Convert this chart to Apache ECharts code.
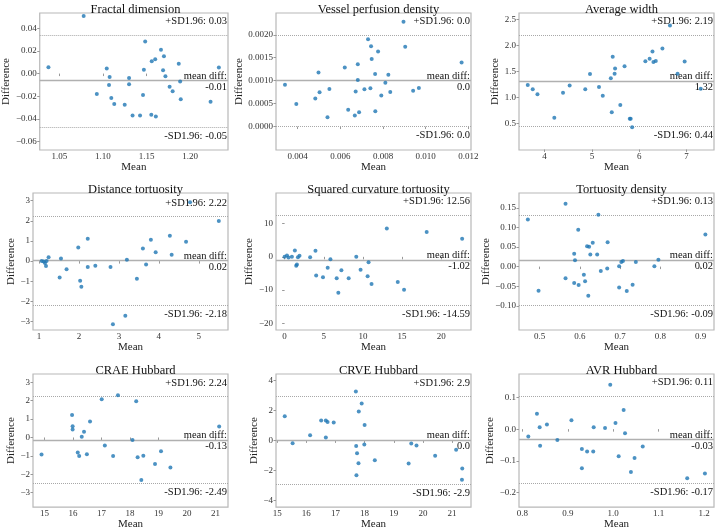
<!DOCTYPE html>
<html><head><meta charset="utf-8">
<script src="https://cdn.jsdelivr.net/npm/echarts@6/dist/echarts.min.js"></script>
<style>html,body{margin:0;padding:0;background:#fff}#c{width:716px;height:531px}</style>
</head><body><div id="c"></div>
<script>
const titles = ['Fractal dimension','Vessel perfusion density','Average width','Distance tortuosity','Squared curvature tortuosity','Tortuosity density','CRAE Hubbard','CRVE Hubbard','AVR Hubbard'];

const fractalMean = [1.0375,1.0779,1.093,1.1044,1.1077,1.107,1.1096,1.113,1.130,1.130,1.125,1.134,1.1426,1.146,1.147,1.1485,1.156,1.160,1.1555,1.1607,1.1666,1.169,1.170,1.1717,1.1765,1.180,1.187,1.1886,1.1893,1.2235,1.233];
const fractalDiff = [0.0056,0.051,-0.018,0.0044,-0.003,-0.010,-0.0216,-0.027,-0.004,-0.0095,-0.0276,-0.037,-0.037,-0.019,0.0033,0.0284,0.011,0.0127,-0.0364,-0.038,0.021,0.003,0.0154,-0.0024,-0.0116,-0.0157,0.0086,-0.0071,-0.0228,-0.0249,0.0053];

const vesselMean = [0.00341,0.00394,0.00483,0.00498,0.00503,0.00549,0.00540,0.00621,0.00637,0.00668,0.00672,0.00682,0.00682,0.00688,0.00713,0.00730,0.00741,0.00744,0.00747,0.00763,0.00764,0.00777,0.00792,0.00811,0.00825,0.00834,0.00896,0.00904,0.00941,0.00968,0.01168];
const vesselDiff = [0.000912,0.00049,0.00061,0.001175,0.000745,0.000818,0.000204,0.001285,0.000365,0.00024,0.000766,0.001358,0.001015,0.000314,0.00081,0.0019,0.000832,0.00175,0.001474,0.001146,0.000336,0.001635,0.000679,0.000956,0.00113,0.000752,0.002285,0.001737,0.00078,0.00084,0.001394];

const widthMean = [3.645,3.75,3.85,4.206,4.39,4.53,4.86,4.96,5.15,5.23,5.40,5.42,5.44,5.48,5.49,5.60,5.69,5.80,5.82,5.85,6.13,6.22,6.28,6.30,6.35,6.49,6.65,6.81,6.96,7.30];
const widthDiff = [1.238,1.154,1.058,0.608,1.09,1.23,1.154,1.45,1.20,1.03,1.367,0.717,1.778,1.455,1.553,0.852,1.598,0.588,0.588,0.428,1.695,1.74,1.88,1.68,1.70,1.94,2.38,1.456,1.69,1.167];

const distMean = [1.067,1.117,1.15,1.175,1.19,1.24,1.517,1.55,1.69,1.983,2.03,2.06,2.22,2.22,2.41,2.79,2.85,3.16,3.2,3.45,3.6,3.68,3.8,3.92,4.275,4.32,4.68,4.78,5.5];
const distDiff = [0,-0.016,-0.1,-0.245,0,0.196,-0.816,0.13,-0.41,0.67,-0.98,-1.27,1.11,-0.29,-0.23,-0.29,-3.13,-2.71,0.065,-0.88,0.62,-0.163,1.06,0.44,1.256,0.31,0.96,2.92,1.99];

const sqMean = [0,0.3,0.5,0.93,1.31,1.48,1.57,1.7,1.9,3.26,3.94,4.03,4.9,5.5,5.85,6.65,6.86,7.25,8.18,9.15,9.7,10.6,10.72,11.1,13.05,14.45,15.25,18.14,22.67];
const sqDiff = [0,0.4,-0.2,0,1.9,-2.67,-2.3,-0.1,0.3,-0.1,1.8,-5.6,-6.1,-3.3,-0.7,-6.4,-10.8,-4.0,-6.4,0,-3.9,-5.8,-1.6,-8.2,8.5,-7.6,-9.9,7.5,5.45];

const densMean = [0.471,0.4975,0.5645,0.5645,0.586,0.586,0.588,0.596,0.597,0.61,0.613,0.618,0.623,0.621,0.626,0.632,0.643,0.646,0.652,0.668,0.669,0.6975,0.6975,0.703,0.707,0.731,0.7165,0.739,0.785,0.795,0.9116];
const densDiff = [0.12,-0.0614,0.16,-0.0295,0.0328,-0.042,0.016,0.094,-0.047,-0.021,-0.037,0.052,0.0505,-0.074,0.031,0.0606,0.031,0.132,-0.011,-0.005,0.0623,0.0008,-0.053,0.0118,0.0143,-0.046,-0.062,0.0118,0.0008,0.0177,0.0817];

const craeMean = [14.9,15.97,15.99,15.99,16.17,16.22,16.31,16.39,16.49,16.6,17.01,17.12,17.41,17.58,18.09,18.22,18.27,18.4,18.47,18.88,19.09,19.42,21.13];
const craeDiff = [-0.925,1.22,0.61,0.44,-0.82,-1.01,0.035,0.314,-0.907,0.87,2.08,-0.436,-1.01,2.3,-0.14,1.97,-1.08,-2.32,-0.995,-1.45,-0.75,-1.64,0.593];

const crveMean = [15.26,15.53,16.13,16.51,16.67,16.73,16.67,16.94,17.7,17.71,17.72,17.74,17.8,17.79,17.9,17.99,18.0,18.35,19.51,19.6,19.78,20.42,21.14,21.35,21.34];
const crveDiff = [1.6,-0.19,0.34,1.32,1.32,1.22,0.19,1.19,3.24,-0.38,-2.32,-0.85,1.92,-1.51,2.45,-0.28,1.02,-1.32,-1.54,-0.21,-0.34,-1.02,-0.62,-1.86,-2.62];

const avrMean = [0.813,0.832,0.838,0.839,0.854,0.877,0.908,0.931,0.931,0.9425,0.956,0.957,0.982,0.9935,1.005,1.012,1.023,1.026,1.039,1.047,1.065,1.163,1.202];
const avrDiff = [-0.023,0.0485,0.006,-0.0525,0.015,-0.034,0.028,-0.0626,-0.123,-0.07,-0.07,0.006,0.004,0.14,0.019,-0.085,0.0606,-0.013,-0.135,-0.091,-0.0545,-0.1545,-0.14];

const upperLine = [0.0341,0.00199,2.195,2.22,12.56,0.131,2.24,2.92,0.105];
const meanLine  = [-0.0062,0.001,1.318,0.02,-1.02,0.017,-0.13,0.01,-0.033];
const lowerLine = [-0.0477,0.00001,0.441,-2.18,-14.59,-0.098,-2.49,-2.9,-0.171];
const upperText = ['+SD1.96: 0.03','+SD1.96: 0.0','+SD1.96: 2.19','+SD1.96: 2.22','+SD1.96: 12.56','+SD1.96: 0.13','+SD1.96: 2.24','+SD1.96: 2.9','+SD1.96: 0.11'];
const meanText  = ['-0.01','0.0','1.32','0.02','-1.02','0.02','-0.13','0.0','-0.03'];
const lowerText = ['-SD1.96: -0.05','-SD1.96: 0.0','-SD1.96: 0.44','-SD1.96: -2.18','-SD1.96: -14.59','-SD1.96: -0.09','-SD1.96: -2.49','-SD1.96: -2.9','-SD1.96: -0.17'];

const xMin = [1.0275,0.00299,3.46,0.85,-1.1,0.449,14.6,14.96,0.7925];
const xMax = [1.2435,0.01212,7.58,5.73,23.8,0.933,21.44,21.65,1.222];
const yMin = [-0.0676,-0.000511,-0.01,-3.42,-22,-0.1616,-3.79,-4.43,-0.2455];
const yMax = [0.0536,0.002474,2.62,3.38,19.2,0.1877,3.455,4.41,0.1737];

const xTicks = [[1.05,1.10,1.15,1.20],[0.004,0.006,0.008,0.010,0.012],[4,5,6,7],[1,2,3,4,5],[0,5,10,15,20],[0.5,0.6,0.7,0.8,0.9],[15,16,17,18,19,20,21],[15,16,17,18,19,20,21],[0.8,0.9,1.0,1.1,1.2]];
const yTicks = [[-0.06,-0.04,-0.02,0,0.02,0.04],[0,0.0005,0.001,0.0015,0.002],[0.5,1,1.5,2,2.5],[-3,-2,-1,0,1,2,3],[-20,-10,0,10],[-0.10,-0.05,0,0.05,0.10,0.15],[-3,-2,-1,0,1,2,3],[-4,-2,0,2,4],[-0.2,-0.1,0,0.1]];
const xDec = [2,3,0,0,0,1,0,0,1];
const yDec = [2,4,1,0,0,2,0,0,1];

const means = [fractalMean,vesselMean,widthMean,distMean,sqMean,densMean,craeMean,crveMean,avrMean];
const diffs = [fractalDiff,vesselDiff,widthDiff,distDiff,sqDiff,densDiff,craeDiff,crveDiff,avrDiff];

// layout
const colLeft = [33, 276, 519];
const rowTop = [13, 193, 374];
const W = 195, H = 137;
const yNameGap = [22.5, 27.5, 17.5, 14.5, 20.5, 25.5, 14.5, 14.5, 22.5];
const FONT = "'Liberation Serif','Times New Roman',serif";
const fmt = (v, d) => { let s = v.toFixed(d); if (Number(s) === 0) s = (0).toFixed(d); return s.replace('-', '\u2212'); };

const grid = [], xAxis = [], yAxis = [], series = [], title = [];
for (let i = 0; i < 9; i++) {
  const r = Math.floor(i / 3), c = i % 3;
  grid.push({left: colLeft[c], top: rowTop[r], width: W, height: H, show: true, borderColor: '#b8b8b8', borderWidth: 1.2, backgroundColor: 'transparent', containLabel: false});
  title.push({text: titles[i], left: colLeft[c] + W / 2, top: rowTop[r] - 15, textAlign: 'center',
    textStyle: {fontFamily: FONT, fontSize: 12.5, fontWeight: 'normal', color: '#111'}});
  xAxis.push({type: 'value', gridIndex: i, min: xMin[i], max: xMax[i],
    name: 'Mean', nameLocation: 'middle', nameGap: 7,
    nameTextStyle: {fontFamily: FONT, fontSize: 11, color: '#222'},
    axisLine: {show: false}, splitLine: {show: false},
    axisTick: {show: true, length: 2.5, lineStyle: {color: '#999'}, customValues: xTicks[i]},
    axisLabel: {show: true, margin: 2, fontFamily: FONT, fontSize: 9, color: '#333', customValues: xTicks[i],
      formatter: (v => fmt(v, xDec[i]))}});
  yAxis.push({type: 'value', gridIndex: i, min: yMin[i], max: yMax[i],
    name: 'Difference', nameLocation: 'middle', nameGap: yNameGap[i], nameRotate: 90,
    nameTextStyle: {fontFamily: FONT, fontSize: 11, color: '#222'},
    axisLine: {show: false}, splitLine: {show: false},
    axisTick: {show: true, length: 2.5, lineStyle: {color: '#999'}, customValues: yTicks[i]},
    axisLabel: {show: true, margin: 3, fontFamily: FONT, fontSize: 9, color: '#333', customValues: yTicks[i],
      formatter: (v => fmt(v, yDec[i]))}});
  const lab = {fontFamily: FONT, fontSize: 10.5, color: '#111'};
  series.push({type: 'scatter', xAxisIndex: i, yAxisIndex: i,
    data: means[i].map((m, k) => [m, diffs[i][k]]),
    symbolSize: 4, itemStyle: {color: '#1f77b4'}, z: 3,
    markLine: {silent: true, symbol: 'none', animation: false, z: 2, precision: 12,
      data: [
        {yAxis: upperLine[i], lineStyle: {type: 'dotted', color: '#a8a8a8', width: 1},
          label: Object.assign({show: true, position: 'insideEndTop', formatter: upperText[i], distance: [1, 8]}, lab)},
        {yAxis: meanLine[i], lineStyle: {type: 'solid', color: '#b0b0b0', width: 1.3},
          label: Object.assign({show: true, position: 'insideEndTop', formatter: 'mean diff:', distance: [1, -1]}, lab)},
        {yAxis: meanLine[i], lineStyle: {type: 'solid', color: 'rgba(0,0,0,0)', width: 1},
          label: Object.assign({show: true, position: 'insideEndBottom', formatter: meanText[i], distance: [1, 1]}, lab)},
        {yAxis: lowerLine[i], lineStyle: {type: 'dotted', color: '#a8a8a8', width: 1},
          label: Object.assign({show: true, position: 'insideEndBottom', formatter: lowerText[i], distance: [1, 3.5]}, lab)}
      ]}});
}

const chart = echarts.init(document.getElementById('c'), null, {renderer: 'canvas'});
chart.setOption({animation: false, backgroundColor: '#fff', title, grid, xAxis, yAxis, series});
</script></body></html>
